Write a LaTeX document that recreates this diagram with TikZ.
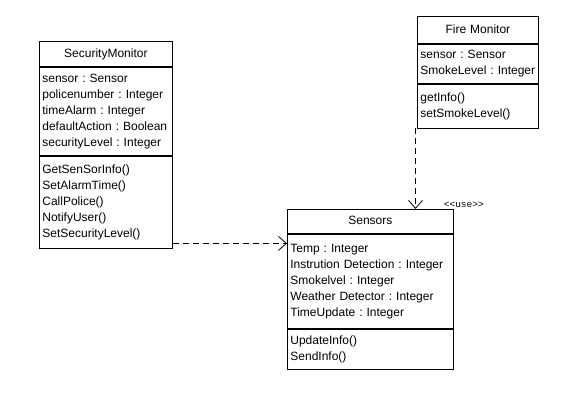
\documentclass[tikz,border=0pt]{standalone}
\usepackage{fontspec}
\setmainfont{Liberation Sans}
\newfontfamily\stereofont{Liberation Mono}
\usetikzlibrary{positioning, arrows.meta, calc}
\frenchspacing

\begin{document}
\begin{tikzpicture}[x=1pt, y=1pt, >=Latex]

\tikzset{
  classhead/.style={
    rectangle, draw, line width=0.8pt, align=center,
    inner xsep=3pt, inner ysep=0pt,
    font=\fontsize{12}{16}\selectfont,
    execute at begin node=\strut, execute at end node=\strut
  },
  classpart/.style={
    rectangle, draw, line width=0.8pt, align=left,
    inner xsep=3pt, inner ysep=0pt,
    font=\fontsize{12}{16}\selectfont,
    execute at begin node=\strut, execute at end node=\strut
  },
  dep/.style={
    line width=0.8pt, dash pattern=on 6pt off 4pt,
    -{Straight Barb[length=8pt, width=14pt, line width=0.8pt]}
  },
  stereo/.style={font=\stereofont\fontsize{9.5}{11}\selectfont, inner sep=0pt}
}

\useasboundingbox (0,0) rectangle (580,406);

% =========================================================
% SecurityMonitor
% =========================================================
\node[classhead, text width=127pt, minimum height=25pt, anchor=north west] (smHead) at (39,365) {SecurityMonitor};
\node[classpart, text width=127pt, minimum height=88pt, below=0pt of smHead] (smAttr)
{sensor : Sensor\\policenumber : Integer\\timeAlarm : Integer\\defaultAction : Boolean\\securityLevel : Integer};
\node[classpart, text width=127pt, minimum height=92pt, below=0pt of smAttr] (smOps)
{GetSenSorInfo()\\SetAlarmTime()\\CallPolice()\\NotifyUser()\\SetSecurityLevel()};

% =========================================================
% Fire Monitor
% =========================================================
\node[classhead, text width=115pt, minimum height=26.5pt, anchor=north west] (fmHead) at (417,389.5) {Fire Monitor};
\node[classpart, text width=115pt, minimum height=39pt, below=0pt of fmHead] (fmAttr)
{sensor : Sensor\\SmokeLevel : Integer};
\node[classpart, text width=115pt, minimum height=44pt, below=0pt of fmAttr] (fmOps)
{getInfo()\\setSmokeLevel()};

% =========================================================
% Sensors
% =========================================================
\node[classhead, text width=160pt, minimum height=24pt, anchor=north west] (snHead) at (287,197) {Sensors};
\node[classpart, text width=160pt, minimum height=94pt, below=0pt of snHead] (snAttr)
{Temp : Integer\\Instrution Detection : Integer\\Smokelvel : Integer\\Weather Detector : Integer\\TimeUpdate : Integer};
\node[classpart, text width=160pt, minimum height=40pt, below=0pt of snAttr] (snOps)
{UpdateInfo()\\SendInfo()};

% =========================================================
% Dependencies
% =========================================================
\coordinate (smOut) at ($(smOps.south east)+(0,5)$);
\coordinate (fmOut) at ($(fmOps.south west)+(-1.5,0)$);

\draw[dep] (smOut) -- (smOut -| snAttr.west);
\draw[dep] (fmOut) -- (fmOut |- snHead.north);

\node[stereo] (useLbl) at ($(snHead.north east)+(10,4)$) {\textless\textless use\textgreater\textgreater};

\end{tikzpicture}
\end{document}
